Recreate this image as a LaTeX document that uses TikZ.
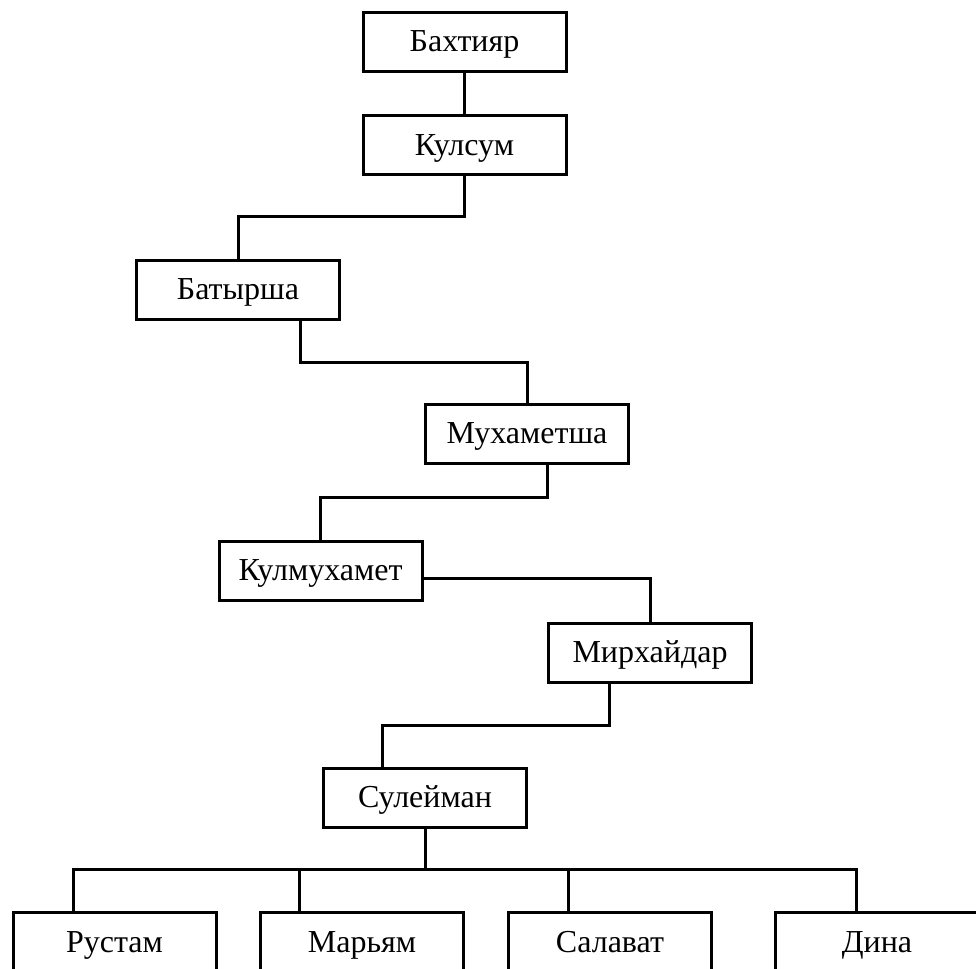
\documentclass[tikz,border=0pt]{standalone}
\usepackage{fontspec}
\setmainfont{Liberation Serif}
\begin{document}
\begin{tikzpicture}[x=1pt,y=-1pt,
  box/.style={draw, line width=3pt, minimum width=203pt, minimum height=59pt, inner sep=0pt, text height=24pt, text depth=4pt, font=\fontsize{32}{32}\selectfont},
  link/.style={line width=3pt}]
\useasboundingbox (0,0) rectangle (976,968);
\clip (0,0) rectangle (976,968);
\node[box] (n1) at (464.5,42) {Бахтияр};
\node[box] (n2) at (464.5,145.5) {Кулсум};
\node[box] (n3) at (238,289.5) {Батырша};
\node[box] (n4) at (527,433.5) {Мухаметша};
\node[box] (n5) at (320.5,570.5) {Кулмухамет};
\node[box] (n6) at (650,652.5) {Мирхайдар};
\node[box] (n7) at (425,797.5) {Сулейман};
\node[box] (b1) at (114.5,942) {Рустам};
\node[box] (b2) at (362,942) {Марьям};
\node[box] (b3) at (610,942) {Салават};
\node[box] (b4) at (877,942) {Дина};
\coordinate (j1) at (238,217);
\coordinate (j2) at (527,362);
\coordinate (j3) at (320.5,497);
\coordinate (j4) at (382,725);
\coordinate (j5) at (425,869);
\draw[link] (n1.south) -- (n2.north);
\draw[link] (n2.south) |- (j1) -- (n3.north);
\draw[link] ([xshift=62pt]n3.south) |- (j2) -- (n4.north);
\draw[link] ([xshift=20pt]n4.south) |- (j3) -- (n5.north);
\draw[link] ([yshift=-8pt]n5.east) -| (n6.north);
\draw[link] ([xshift=-41pt]n6.south) |- (j4) -- (j4 |- n7.north);
\draw[link] (n7.south) -- (j5);
\draw[link] (j5) -| ([xshift=-41.5pt]b1.north);
\draw[link] (j5) -| ([xshift=-63pt]b2.north);
\draw[link] (j5) -| ([xshift=-42pt]b3.north);
\draw[link] (j5) -| ([xshift=-21pt]b4.north);
\end{tikzpicture}
\end{document}
